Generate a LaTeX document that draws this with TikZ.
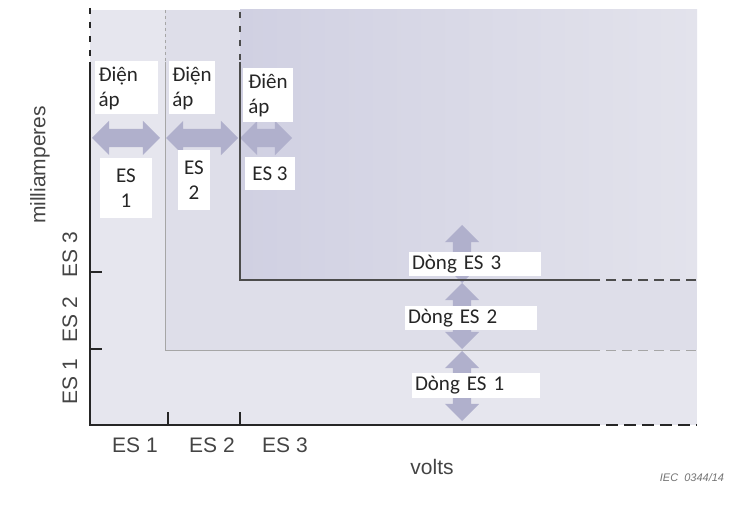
\documentclass[tikz,border=0pt]{standalone}
\usepackage{fontspec}
\setmainfont{Liberation Sans}
\newfontfamily\boxfont{Carlito}
\usetikzlibrary{shapes.arrows}
\definecolor{zoneone}{HTML}{E6E6EE}
\definecolor{zonetwo}{HTML}{DEDEE9}
\definecolor{zonethree}{HTML}{D0D0E2}
\definecolor{zonefade}{HTML}{E3E3EC}
\definecolor{arrowc}{HTML}{B0B0CC}
\definecolor{inkc}{HTML}{444444}
\begin{document}
\begin{tikzpicture}[x=1pt,y=-1pt,
  lbl/.style={font=\fontsize{21}{25}\selectfont, text=inkc},
  tag/.style={fill=white, font=\boxfont\fontsize{21}{25}\selectfont, text=black!85, inner sep=3pt},
  darrow/.style={double arrow, fill=arrowc, draw=none, inner xsep=0pt, inner ysep=9pt, minimum height=#1, double arrow head extend=8pt},
  axisline/.style={line width=1.6pt, black!85},
  threeline/.style={line width=1.3pt, black!70},
  twoline/.style={line width=1pt, black!35}]
\useasboundingbox (0,0) rectangle (738,510);
\fill[zoneone] (90,10) rectangle (697,425);
\fill[zonetwo] (165,10) rectangle (697,350);
\shade[left color=zonethree, right color=zonefade] (240,10) rectangle (697,280);
\node[darrow=68pt] (va1) at (126,138) {};
\node[darrow=72pt] (va2) at (202,138) {};
\node[darrow=52pt] (va3) at (266,138) {};
\node[darrow=58pt, rotate=90] (ca3) at (462,254) {};
\node[darrow=66pt, rotate=90] (ca2) at (462,316) {};
\node[darrow=70pt, rotate=90] (ca1) at (462,386) {};
\draw[twoline, dashed] (165,10) -- (165,62);
\draw[twoline] (165,62) -- (165,350) -- (590,350);
\draw[twoline, dash pattern=on 10pt off 6pt] (590,350) -- (697,350);
\draw[threeline, dash pattern=on 6pt off 8pt] (240,12) -- (240,62);
\draw[threeline] (240,62) -- (240,280) -- (590,280);
\draw[threeline, dash pattern=on 10pt off 6pt] (590,280) -- (697,280);
\draw[axisline, dash pattern=on 6pt off 8pt] (90,8) -- (90,62);
\draw[axisline] (90,62) -- (90,425) -- (588,425);
\draw[axisline, dash pattern=on 12pt off 6pt] (588,425) -- (697,425);
\draw[axisline] (90,272) -- (102,272);
\draw[axisline] (90,349) -- (102,349);
\draw[axisline] (168,425) -- (168,412);
\draw[axisline] (240,425) -- (240,412);
\node[tag, align=left, minimum width=63pt, minimum height=53pt, text width=55pt] (v1) at (126,88) {Điện\\áp};
\node[tag, align=left, minimum width=45pt, minimum height=53pt] (v2) at (192,88) {Điện\\áp};
\node[tag, align=left, minimum width=50pt, minimum height=54pt] (v3) at (268,95) {Điên\\áp};
\node[tag, align=center, minimum width=52pt, minimum height=60pt] (e1) at (126,188) {ES\\1};
\node[tag, align=center, minimum width=32pt, minimum height=60pt] (e2) at (194,180) {ES\\2};
\node[tag, minimum width=50pt, minimum height=33pt] (e3) at (270,174) {ES 3};
\node[tag, align=left, text width=126pt, minimum height=23pt] (c3) at (475,264) {Dòng ES 3};
\node[tag, align=left, text width=126pt, minimum height=22pt] (c2) at (471,318) {Dòng ES 2};
\node[tag, align=left, text width=122pt, minimum height=25pt] (c1) at (476,385) {Dòng ES 1};
\node[lbl, rotate=90] (ylab) at (40,165) {milliamperes};
\node[lbl, rotate=90] (y3) at (70,255) {ES 3};
\node[lbl, rotate=90] (y2) at (70,320) {ES 2};
\node[lbl, rotate=90] (y1) at (70,382) {ES 1};
\node[lbl] (x1) at (135,445) {ES 1};
\node[lbl] (x2) at (212,445) {ES 2};
\node[lbl] (x3) at (285,445) {ES 3};
\node[lbl] (xlab) at (432,467) {volts};
\node[font=\itshape\fontsize{11}{13}\selectfont, text=black!55] (iec) at (692,478) {IEC\ \ 0344/14};
\end{tikzpicture}
\end{document}
